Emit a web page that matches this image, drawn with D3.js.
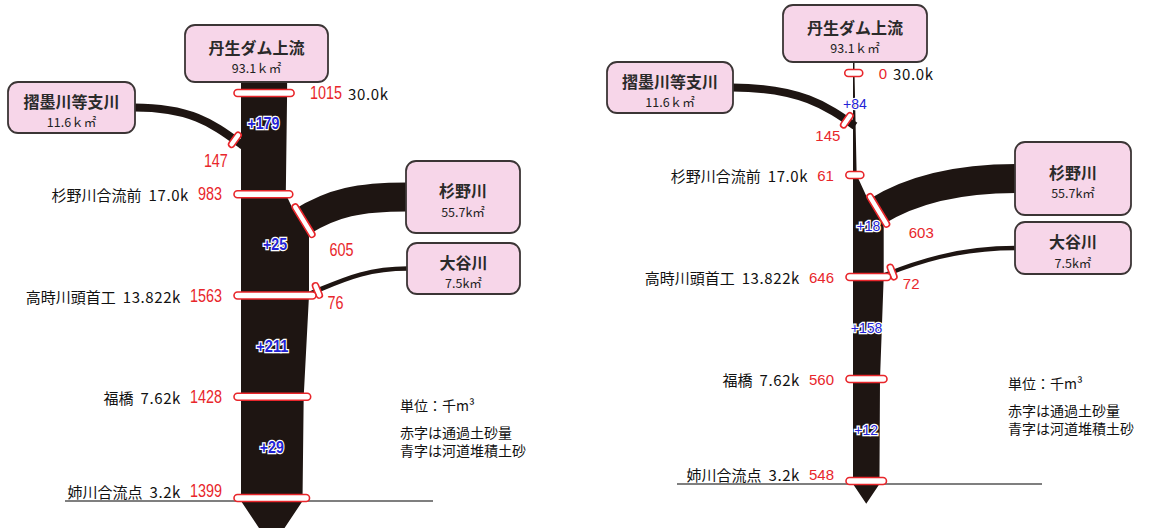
<!DOCTYPE html>
<html><head><meta charset="utf-8">
<script src="https://cdn.jsdelivr.net/npm/d3@7"></script>
<style>body{margin:0;background:#fff} svg{display:block}</style>
</head><body>
<svg id="c" width="1156" height="528"></svg>
<script>
// ---------- data ----------
const stations = ["30.0k", "17.0k", "13.822k", "7.62k", "3.2k"];
const stationNames = ["", "杉野川合流前", "高時川頭首工", "福橋", "姉川合流点"];
const upstreamName = "丹生ダム上流";
const upstreamArea = "93.1ｋ㎡";
const tribNames = ["摺墨川等支川", "杉野川", "大谷川"];
const tribAreas = ["11.6ｋ㎡", "55.7k㎡", "7.5k㎡"];
// left diagram
const flowA = [1015, 983, 1563, 1428, 1399];
const depositA = [179, 25, 211, 29];
const tribA = [147, 605, 76];
// right diagram
const flowB = [0, 61, 646, 560, 548];
const depositB = [84, 18, 158, 12];
const tribB = [145, 603, 72];
const legendLines = ["単位：千m³", "赤字は通過土砂量", "青字は河道堆積土砂"];

// ---------- style ----------
const INK = "#1e1512", RED = "#e8262b", BLUE = "#2222d6", PINK = "#f7d6e9", BOXSTROKE = "#3b3535";
const JP = "'Noto Sans CJK JP', sans-serif";
const NUM = "'Liberation Sans', Arial, sans-serif";

const svg = d3.select("#c");
const wScale = d3.scalePow().exponent(0.9).domain([0, 1563]).range([0, 68]);
const W = v => Math.max(1.5, wScale(v));

const panels = [
  { flow: flowA, dep: depositA, trib: tribA, y0: 93, y1: 498, xL: 241,
    up: {x: 185, y: 25, w: 143, h: 57},
    tb: [{x: 8, y: 82, w: 127, h: 51}, {x: 406, y: 161, w: 114, h: 72}, {x: 407, y: 243, w: 113, h: 51}],
    legend: {x: 400, y: 405}, base: [65, 433], bandDy: 28,
    labOff: [[-19, 21], [38, 29], [18, 13]],
    depFrac: [0.3, 0.5, 0.5, 0.5],
    numSize: 18, narrow: 8.0, depWeight: 700 },
  { flow: flowB, dep: depositB, trib: tribB, y0: 73, y1: 481, xL: 853,
    up: {x: 783, y: 5, w: 144, h: 57},
    tb: [{x: 607, y: 62, w: 126, h: 51}, {x: 1015, y: 142, w: 116, h: 73}, {x: 1015, y: 222, w: 116, h: 52}],
    legend: {x: 1008, y: 383}, base: [677, 1042], bandDy: 37,
    labOff: [[-19, 15], [43, 22], [19, 11]],
    depFrac: [0.3, 0.5, 0.5, 0.5],
    numSize: 15, narrow: 0, depWeight: 400 }
];

function cubicPath(S, c1, c2, E) {
  const p = d3.path();
  p.moveTo(S[0], S[1]);
  p.bezierCurveTo(c1[0], c1[1], c2[0], c2[1], E[0], E[1]);
  return p.toString();
}

function numText(sel, P, str, x, y, anchor) {
  const t = sel.append("text").attr("x", x).attr("y", y).attr("text-anchor", anchor)
    .attr("dominant-baseline", "central").attr("font-family", NUM).attr("font-size", P.numSize)
    .attr("fill", RED).text(str);
  if (P.narrow) t.attr("textLength", String(str).length * P.narrow).attr("lengthAdjust", "spacingAndGlyphs");
  return t;
}

function drawPanel(P) {
  const g = svg.append("g");
  const y = d3.scalePoint().domain(stations).range([P.y0, P.y1]);
  const ys = stations.map(s => y(s));
  const xL = P.xL;
  const ws = P.flow.map(W);
  const xR = ws.map(w => xL + w);
  const top = P.up.y + P.up.h - 2;
  const yEnd = ys[4] + 3;

  // baseline
  g.append("line").attr("x1", P.base[0]).attr("x2", P.base[1])
    .attr("y1", yEnd).attr("y2", yEnd).attr("stroke", "#555").attr("stroke-width", 1.3);

  const tribLayer = g.append("g");
  const trib = [];
  {
    const b = P.tb[0];
    const S = [b.x + b.w - 1, b.y + b.h / 2];
    const yj = ys[0] + 0.52 * (ys[1] - ys[0]);
    const E = [xL + 2, yj];
    trib.push({ d: cubicPath(S, [S[0] + 0.55 * (E[0] - S[0]), S[1]], [E[0] - 28, E[1] - 20], E), w: W(P.trib[0]), back: 10 });
  }
  let upperEnd, lowerEnd;
  {
    const b = P.tb[1];
    const S = [b.x + 1, b.y + b.h / 2];
    const E = [xR[2] - 8, ys[1] + P.bandDy];
    const c2 = [E[0] + 32, E[1] - 20];
    const w = W(P.trib[1]);
    const t = [E[0] - c2[0], E[1] - c2[1]];
    const n = Math.hypot(t[0], t[1]);
    const nx = t[1] / n, ny = -t[0] / n;
    const a = [E[0] + nx * w / 2, E[1] + ny * w / 2], c = [E[0] - nx * w / 2, E[1] - ny * w / 2];
    upperEnd = a[1] < c[1] ? a : c; lowerEnd = a[1] < c[1] ? c : a;
    trib.push({ d: cubicPath(S, [S[0] - 0.45 * (S[0] - E[0]), S[1]], c2, E), w: w, back: 3 });
  }
  {
    const b = P.tb[2];
    const S = [b.x + 1, b.y + b.h / 2];
    const E = [xR[2] + 1, ys[2] - 2];
    trib.push({ d: cubicPath(S, [S[0] - 0.45 * (S[0] - E[0]), S[1]], [E[0] + 30, E[1] - 12], E), w: W(P.trib[2]), back: 8 });
  }
  const tpaths = tribLayer.selectAll("path").data(trib).join("path")
    .attr("d", d => d.d).attr("fill", "none").attr("stroke", INK)
    .attr("stroke-width", d => d.w).attr("stroke-linecap", "butt");

  // main channel polygon
  const pts = [
    [xL, top], [xL, yEnd], [xL + ws[4] / 2, yEnd + 0.75 * ws[4]], [xR[4], yEnd],
    [xR[4], ys[4]], [xR[3], ys[3]], [xR[2], ys[2]], [xR[2], lowerEnd[1] + 3],
    lowerEnd, upperEnd, [xR[1], ys[1]], [xR[0], ys[0]], [xR[0], top]
  ];
  g.append("path").attr("d", d3.line()(pts) + "Z").attr("fill", INK);

  // tributary markers
  const markers = g.append("g");
  const tribMarks = [];
  tpaths.each(function (d) {
    const L = this.getTotalLength();
    const p = this.getPointAtLength(L - d.back);
    const q = this.getPointAtLength(L - d.back + 1);
    const ang = Math.atan2(q.y - p.y, q.x - p.x) * 180 / Math.PI;
    const len = Math.max(16, d.w + 9);
    markers.append("rect")
      .attr("x", -3).attr("y", -len / 2).attr("width", 6).attr("height", len).attr("rx", 3)
      .attr("transform", `translate(${p.x},${p.y}) rotate(${ang})`)
      .attr("fill", "#fff").attr("stroke", RED).attr("stroke-width", 1.6);
    tribMarks.push([p.x, p.y]);
  });

  // station markers
  const mk = P.flow.map((v, i) => {
    const c = xL + ws[i] / 2, mw = Math.max(18, ws[i] + 14);
    return {x: c - mw / 2, w: mw, y: ys[i]};
  });
  markers.selectAll("rect.st").data(mk).join("rect").attr("class", "st")
    .attr("x", d => d.x).attr("y", d => d.y - 3.5).attr("width", d => d.w).attr("height", 7).attr("rx", 3.5)
    .attr("fill", "#fff").attr("stroke", RED).attr("stroke-width", 1.6);

  // boxes
  const boxes = [{b: P.up, t: upstreamName, a: upstreamArea}].concat(P.tb.map((b, i) => ({b, t: tribNames[i], a: tribAreas[i]})));
  const bg = g.append("g");
  boxes.forEach(o => {
    const b = o.b, my = b.y + b.h / 2;
    bg.append("rect").attr("x", b.x).attr("y", b.y).attr("width", b.w).attr("height", b.h).attr("rx", 10)
      .attr("fill", PINK).attr("stroke", BOXSTROKE).attr("stroke-width", 1.8);
    bg.append("text").attr("x", b.x + b.w / 2).attr("y", my - 7).attr("text-anchor", "middle")
      .attr("dominant-baseline", "central").attr("font-family", JP).attr("font-size", 16).attr("font-weight", 700)
      .attr("fill", "#2a2a2a").text(o.t);
    bg.append("text").attr("x", b.x + b.w / 2).attr("y", my + 14).attr("text-anchor", "middle")
      .attr("dominant-baseline", "central").attr("font-family", JP).attr("font-size", 12.5)
      .attr("fill", "#222").text(o.a);
  });

  // station labels
  const tl = g.append("g");
  P.flow.forEach((v, i) => {
    if (i === 0) {
      const x0 = mk[0].x + mk[0].w + 16;
      const nt = numText(tl, P, v, x0, ys[0], "start");
      const vw = nt.node().getComputedTextLength();
      tl.append("text").attr("x", x0 + vw + 6).attr("y", ys[0]).attr("dominant-baseline", "central")
        .attr("font-family", JP).attr("font-size", 15).attr("fill", "#111").attr("letter-spacing", 0.6).text(stations[0]);
    } else {
      const yy = ys[i] - (i === 4 ? 7 : 0);
      const x0 = mk[i].x - 12;
      const nt = numText(tl, P, v, x0, yy, "end");
      const vw = nt.node().getComputedTextLength();
      const t = tl.append("text").attr("x", x0 - vw - 9).attr("y", yy).attr("text-anchor", "end")
        .attr("dominant-baseline", "central").attr("font-family", JP).attr("font-size", 15).attr("fill", "#111");
      t.append("tspan").text(stationNames[i]);
      t.append("tspan").attr("dx", 7).attr("letter-spacing", 0.6).text(stations[i]);
    }
  });
  // tributary values
  tribMarks.forEach((m, i) => {
    numText(tl, P, P.trib[i], m[0] + P.labOff[i][0], m[1] + P.labOff[i][1], "middle");
  });
  // deposits
  P.dep.forEach((v, i) => {
    const yy = ys[i] + P.depFrac[i] * (ys[i + 1] - ys[i]);
    const s = "+" + v;
    const t = tl.append("text").attr("x", xL + ws[i + 1] / 2).attr("y", yy)
      .attr("text-anchor", "middle").attr("dominant-baseline", "central")
      .attr("font-family", NUM).attr("font-size", P.numSize - 1).attr("font-weight", P.depWeight)
      .attr("fill", BLUE).attr("stroke", "#fff").attr("stroke-width", 2.5).attr("paint-order", "stroke")
      .text(s);
    if (P.narrow) t.attr("textLength", s.length * P.narrow).attr("lengthAdjust", "spacingAndGlyphs");
  });
  // legend
  legendLines.forEach((s, i) => {
    tl.append("text").attr("x", P.legend.x).attr("y", P.legend.y + (i === 0 ? 0 : 9 + i * 18))
      .attr("dominant-baseline", "central").attr("font-family", JP).attr("font-size", 14).attr("fill", "#111").text(s);
  });
}
panels.forEach(drawPanel);
</script>
</body></html>
